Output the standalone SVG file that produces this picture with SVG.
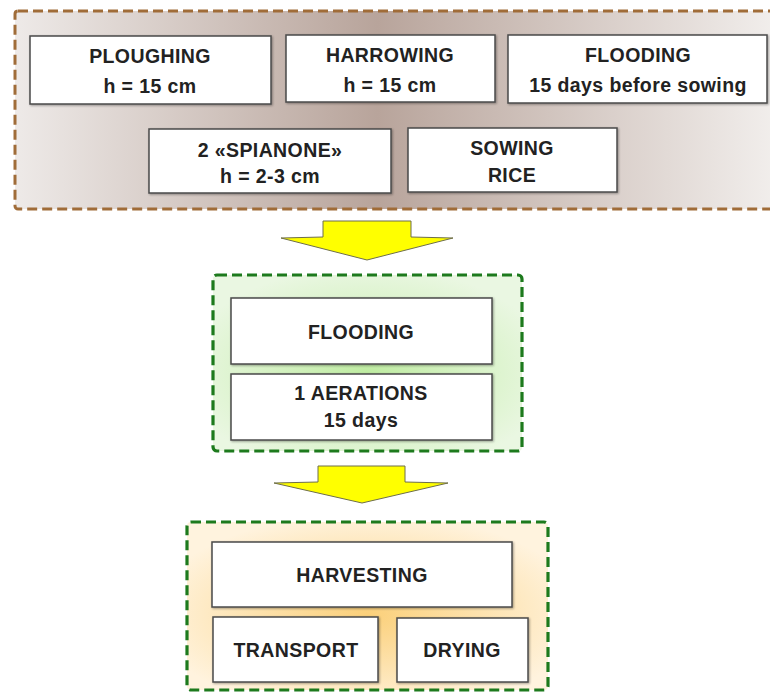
<svg xmlns="http://www.w3.org/2000/svg" width="770" height="692" viewBox="0 0 770 692">
  <defs>
    <linearGradient id="gBrown" x1="0" y1="0" x2="1" y2="0">
      <stop offset="0" stop-color="#eeeae8"/>
      <stop offset="0.47" stop-color="#b8a49b"/>
      <stop offset="1" stop-color="#f3f0ee"/>
    </linearGradient>
    <radialGradient id="gGreen" cx="0.5" cy="0.55" r="0.6">
      <stop offset="0" stop-color="#bfeca2"/>
      <stop offset="1" stop-color="#eaf7e2"/>
    </radialGradient>
    <radialGradient id="gOrange" cx="0.5" cy="0.55" r="0.6">
      <stop offset="0" stop-color="#fbd07a"/>
      <stop offset="1" stop-color="#fff3de"/>
    </radialGradient>
    <filter id="shadow" x="-5%" y="-5%" width="115%" height="120%">
      <feDropShadow dx="1" dy="1" stdDeviation="0.8" flood-color="#000" flood-opacity="0.35"/>
    </filter>
  </defs>
  <style>
    .box { fill: #ffffff; stroke: #4a4a4a; stroke-width: 1.5; filter: url(#shadow); }
    .t { font-family: "Liberation Sans", Arial, sans-serif; font-weight: bold; font-size: 19.5px; fill: #222222; text-anchor: middle; letter-spacing: 0.4px; }
    .brown { stroke: #a06c38; stroke-width: 3; stroke-dasharray: 10 5; }
    .green { stroke: #1d7a1d; stroke-width: 3.2; stroke-dasharray: 10 5; }
    .arrow { fill: #ffff00; stroke: #6e6e4a; stroke-width: 1; stroke-linejoin: round; }
  </style>

  <!-- soil preparation group -->
  <g id="preparation">
    <rect x="15" y="11" width="770" height="198" rx="3" fill="url(#gBrown)" class="brown"/>
    <g id="ploughing">
      <rect class="box" x="30" y="36" width="241" height="68"/>
      <text class="t" x="150" y="63">PLOUGHING</text>
      <text class="t" x="150" y="93">h = 15 cm</text>
    </g>
    <g id="harrowing">
      <rect class="box" x="286" y="35" width="209" height="67"/>
      <text class="t" x="390" y="62">HARROWING</text>
      <text class="t" x="390" y="92">h = 15 cm</text>
    </g>
    <g id="flooding-pre">
      <rect class="box" x="508" y="35" width="259" height="68"/>
      <text class="t" x="638" y="62">FLOODING</text>
      <text class="t" x="638" y="92">15 days before sowing</text>
    </g>
    <g id="spianone">
      <rect class="box" x="149" y="129" width="242" height="64"/>
      <text class="t" x="270" y="157">2 «SPIANONE»</text>
      <text class="t" x="270" y="183">h = 2-3 cm</text>
    </g>
    <g id="sowing">
      <rect class="box" x="408" y="128" width="209" height="64"/>
      <text class="t" x="512" y="155">SOWING</text>
      <text class="t" x="512" y="182">RICE</text>
    </g>
  </g>

  <!-- block arrows between stages -->
  <g id="connectors">
    <polygon class="arrow" points="323,221 411,221 411,237 453,238 367,260 281,238 323,237"/>
    <polygon class="arrow" points="318,466 405,466 405,482 448,483 362,503 274,483 318,482"/>
  </g>

  <!-- water management group -->
  <g id="water">
    <rect x="213" y="275" width="309" height="176" rx="4" fill="url(#gGreen)" class="green"/>
    <g id="flooding">
      <rect class="box" x="231" y="298" width="261" height="66"/>
      <text class="t" x="361" y="339">FLOODING</text>
    </g>
    <g id="aerations">
      <rect class="box" x="231" y="374" width="261" height="66"/>
      <text class="t" x="361" y="400">1 AERATIONS</text>
      <text class="t" x="361" y="427">15 days</text>
    </g>
  </g>

  <!-- harvest group -->
  <g id="harvest">
    <rect x="187" y="522" width="361" height="168" rx="4" fill="url(#gOrange)" class="green"/>
    <g id="harvesting">
      <rect class="box" x="212" y="542" width="300" height="65"/>
      <text class="t" x="362" y="582">HARVESTING</text>
    </g>
    <g id="transport">
      <rect class="box" x="213" y="617" width="165" height="65"/>
      <text class="t" x="296" y="657">TRANSPORT</text>
    </g>
    <g id="drying">
      <rect class="box" x="397" y="618" width="131" height="64"/>
      <text class="t" x="462" y="657">DRYING</text>
    </g>
  </g>
</svg>
